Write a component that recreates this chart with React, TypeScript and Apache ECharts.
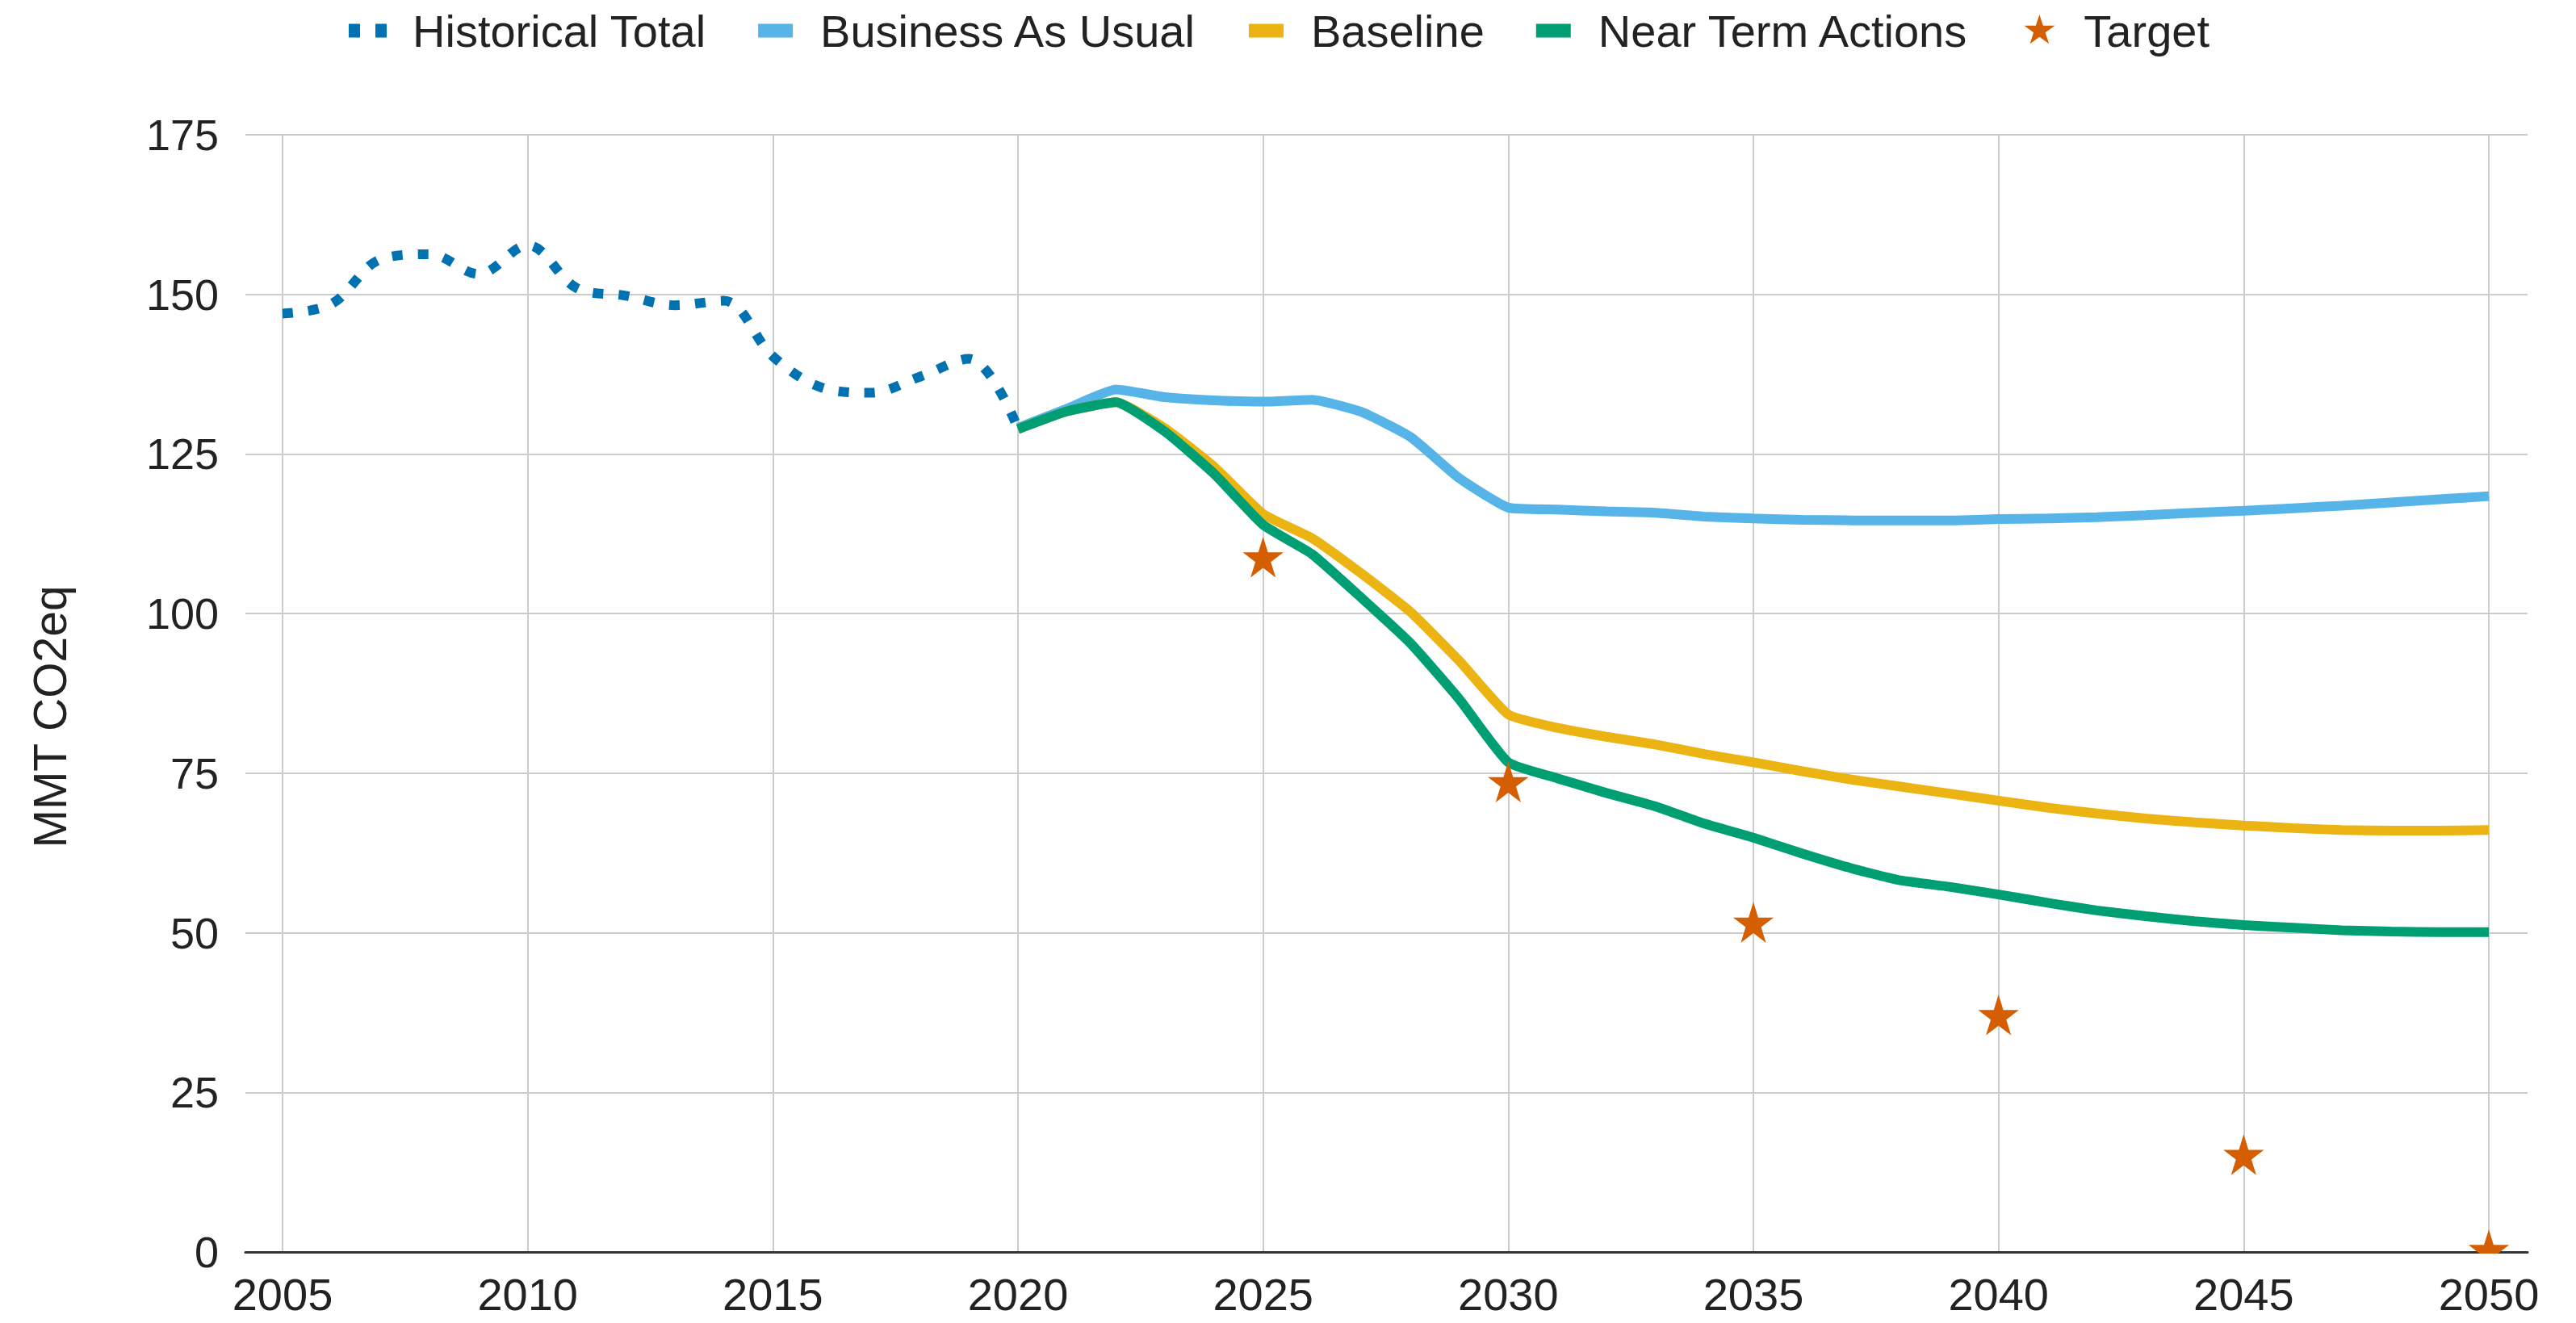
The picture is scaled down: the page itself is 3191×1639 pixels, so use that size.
import React, { useEffect, useRef } from "react";
import * as echarts from "echarts";

// ---- Data ----
const histYears = [2005, 2006, 2007, 2008, 2009, 2010, 2011, 2012, 2013, 2014, 2015, 2016, 2017, 2018, 2019, 2020];
const histValues = [147.0, 148.5, 155.5, 156.3, 153.2, 157.7, 151.0, 149.8, 148.3, 149.0, 140.3, 135.4, 134.6, 137.1, 139.9, 129.0];

const projYears = [2020, 2021, 2022, 2023, 2024, 2025, 2026, 2027, 2028, 2029, 2030, 2031, 2032, 2033, 2034, 2035, 2036, 2037, 2038, 2039, 2040, 2041, 2042, 2043, 2044, 2045, 2046, 2047, 2048, 2049, 2050];
const bauValues = [129.1, 132.1, 135.1, 133.9, 133.4, 133.2, 133.5, 131.6, 127.7, 121.2, 116.6, 116.3, 116.0, 115.8, 115.2, 114.9, 114.7, 114.6, 114.6, 114.6, 114.8, 114.9, 115.1, 115.4, 115.8, 116.1, 116.5, 116.9, 117.4, 117.9, 118.4];
const baselineValues = [128.9, 131.7, 133.1, 129.0, 123.0, 115.6, 111.8, 106.3, 100.3, 92.6, 84.2, 82.1, 80.7, 79.5, 78.0, 76.7, 75.3, 74.0, 72.9, 71.8, 70.7, 69.6, 68.7, 67.9, 67.3, 66.8, 66.4, 66.1, 66.0, 66.0, 66.1];
const ntaValues = [128.9, 131.7, 133.1, 128.5, 121.9, 113.9, 109.3, 102.5, 95.4, 86.6, 76.7, 74.2, 71.9, 69.8, 67.1, 64.9, 62.4, 60.1, 58.2, 57.2, 56.0, 54.7, 53.5, 52.6, 51.8, 51.2, 50.8, 50.4, 50.2, 50.1, 50.1];

const targetYears = [2025, 2030, 2035, 2040, 2045, 2050];
const targetValues = [108.5, 73.3, 51.3, 36.8, 14.9, 0];

const xTickValues = [2005, 2010, 2015, 2020, 2025, 2030, 2035, 2040, 2045, 2050];
const yMin = 0;
const yMax = 175;
const yInterval = 25;

const seriesNames = ["Historical Total", "Business As Usual", "Baseline", "Near Term Actions", "Target"];
const yAxisTitle = "MMT CO2eq";

// ---- Styles ----
const FONT = '"Liberation Sans", Arial, sans-serif';
const TEXT_COLOR = "#222222";
const C_HIST = "#0072B2";
const C_BAU = "#56B4E9";
const C_BASE = "#EBB413";
const C_NTA = "#009E73";
const C_TARGET = "#D55E00";

const ICON_HIST = "path://M0,0L0,0M74,40L74,40M0,11.5h14v17h-14zM33,11.5h14v17h-14z";
const ICON_RECT = "path://M0,0L0,0M74,40L74,40M2,11.5h43v17h-43z";
const ICON_STAR =
  "path://M0,0L0,0M74,40L74,40M24,0L28.49,13.82L43.02,13.82L31.27,22.36L35.76,36.18L24,27.64L12.24,36.18L16.73,22.36L4.98,13.82L19.51,13.82Z";
const STAR_SYMBOL =
  "path://M3.48,0L3.48,0M41.52,40L41.52,40M22.5,0L26.99,13.82L41.52,13.82L29.77,22.36L34.26,36.18L22.5,27.64L10.74,36.18L15.23,22.36L3.48,13.82L18.01,13.82Z";

const pairs = (xs: number[], ys: number[]) => xs.map((x, i) => [x, ys[i]]);

export default function App() {
  const ref = useRef<HTMLDivElement | null>(null);

  useEffect(() => {
    document.body.style.margin = "0";
    if (!ref.current) return;
    const chart = echarts.init(ref.current, null, { renderer: "svg" });

    const gridLeft = 304;
    const gridRight = 3131;
    const gridTop = 167;
    const gridBottom = 1551;
    // x-range chosen so 2005 sits at px 350 and 2050 at px 3083
    const pxPerYear = (3083 - 350) / 45;
    const xMin = 2005 - (350 - gridLeft) / pxPerYear;
    const xMax = 2050 + (gridRight - 3083) / pxPerYear;

    const legendItem = (name: string, icon: string) => ({
      name,
      icon,
      itemStyle: { borderWidth: 0 },
    });

    const option: any = {
      animation: false,
      backgroundColor: "#ffffff",
      textStyle: { fontFamily: FONT },
      grid: {
        left: gridLeft,
        right: 3191 - gridRight,
        top: gridTop,
        bottom: 1639 - gridBottom,
        containLabel: false,
        outerBoundsMode: "none",
      },
      legend: {
        left: 427,
        top: 5,
        itemWidth: 74,
        itemHeight: 40,
        itemGap: 62,
        textStyle: { fontSize: 56, color: TEXT_COLOR, fontFamily: FONT },
        data: [
          legendItem(seriesNames[0], ICON_HIST),
          legendItem(seriesNames[1], ICON_RECT),
          legendItem(seriesNames[2], ICON_RECT),
          legendItem(seriesNames[3], ICON_RECT),
          legendItem(seriesNames[4], ICON_STAR),
        ],
        selectedMode: false,
      },
      xAxis: {
        type: "value",
        min: xMin,
        max: xMax,
        axisLine: { show: true, lineStyle: { color: "#333333", width: 3 } },
        axisTick: { show: false, customValues: xTickValues },
        axisLabel: {
          customValues: xTickValues,
          fontSize: 56,
          color: TEXT_COLOR,
          fontFamily: FONT,
          margin: 24,
          formatter: (v: number) => String(Math.round(v)),
        },
        splitLine: { show: true, lineStyle: { color: "#cccccc", width: 2 } },
      },
      yAxis: {
        type: "value",
        min: yMin,
        max: yMax,
        interval: yInterval,
        axisLine: { show: false },
        axisTick: { show: false },
        axisLabel: { fontSize: 54, color: TEXT_COLOR, fontFamily: FONT, margin: 33 },
        splitLine: { show: true, lineStyle: { color: "#cccccc", width: 2 } },
      },
      graphic: [
        {
          type: "rect",
          z: 100,
          silent: true,
          shape: { x: gridLeft, y: gridBottom + 2, width: 3191 - gridLeft, height: 27 },
          style: { fill: "#ffffff" },
        },
        {
          type: "text",
          x: 62,
          y: 888,
          rotation: Math.PI / 2,
          style: {
            text: yAxisTitle,
            font: `57px ${FONT}`,
            fill: TEXT_COLOR,
            align: "center",
            verticalAlign: "middle",
          },
        },
      ],
      series: [
        {
          name: seriesNames[0],
          type: "line",
          color: C_HIST,
          data: pairs(histYears, histValues),
          showSymbol: false,
          symbol: "none",
          smooth: 0.35,
          lineStyle: { color: C_HIST, width: 12, type: [13, 19], cap: "butt" },
          z: 2,
        },
        {
          name: seriesNames[1],
          type: "line",
          color: C_BAU,
          data: pairs(projYears, bauValues),
          symbol: "none",
          smooth: 0.15,
          lineStyle: { color: C_BAU, width: 12 },
          z: 3,
        },
        {
          name: seriesNames[2],
          type: "line",
          color: C_BASE,
          data: pairs(projYears, baselineValues),
          symbol: "none",
          smooth: 0.15,
          lineStyle: { color: C_BASE, width: 12 },
          z: 4,
        },
        {
          name: seriesNames[3],
          type: "line",
          color: C_NTA,
          data: pairs(projYears, ntaValues),
          symbol: "none",
          smooth: 0.15,
          lineStyle: { color: C_NTA, width: 12 },
          z: 5,
        },
        {
          name: seriesNames[4],
          type: "scatter",
          color: C_TARGET,
          data: pairs(targetYears, targetValues),
          symbol: STAR_SYMBOL,
          symbolSize: [53, 56],
          symbolKeepAspect: true,
          itemStyle: { color: C_TARGET, borderWidth: 0, opacity: 1 },
          clip: false,
          z: 6,
        },
      ],
    };

    chart.setOption(option);
    return () => chart.dispose();
  }, []);

  return (
    <div
      ref={ref}
      style={{ position: "fixed", left: 0, top: 0, width: 3191, height: 1639, background: "#fff" }}
    />
  );
}
